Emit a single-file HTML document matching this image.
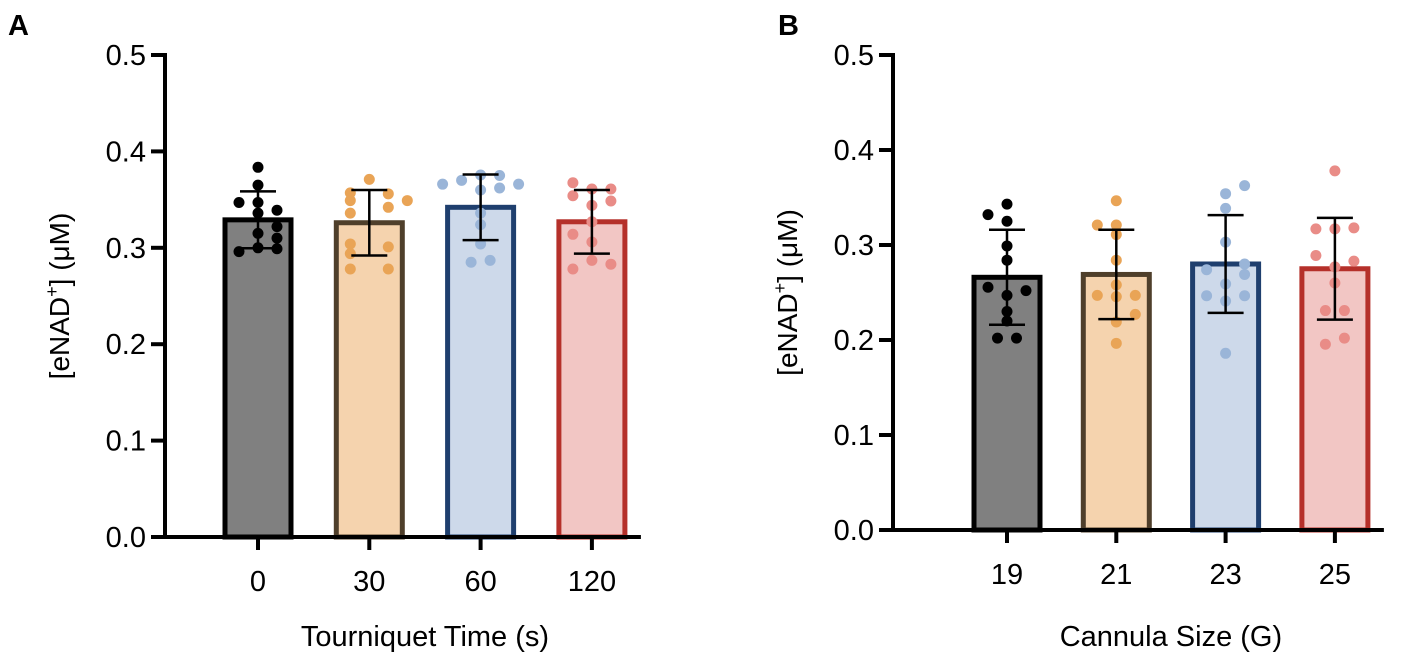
<!DOCTYPE html>
<html><head><meta charset="utf-8"><style>
body{margin:0;background:#fff}
svg{display:block;font-family:"Liberation Sans",Arial,sans-serif}
</style></head><body>
<svg id="s" width="1418" height="660" viewBox="0 0 1418 660" xmlns="http://www.w3.org/2000/svg"></svg>
<script>
const catsA = ["0","30","60","120"];
const meansA = [0.329,0.326,0.342,0.327];
const sdA = [0.0295,0.034,0.034,0.033];
const ptsA = [
 [0.3835,0.365,0.347,0.347,0.339,0.336,0.322,0.315,0.310,0.300,0.299,0.296],
 [0.371,0.357,0.356,0.349,0.349,0.342,0.336,0.304,0.301,0.294,0.278,0.278],
 [0.366,0.370,0.3755,0.375,0.366,0.360,0.362,0.336,0.324,0.304,0.285,0.287],
 [0.3675,0.354,0.361,0.361,0.3485,0.344,0.327,0.314,0.306,0.287,0.283,0.278]];
const offA = [
 [0,0,-1,0,1,0,1,0,1,0,1,-1],
 [0,-1,1,2,-1,1,-1,-1,1,-1,-1,1],
 [-2,-1,0,1,2,0,1,0,0,0,-0.5,0.5],
 [-1,-1,0,1,1,0,0,-1,0,0,1,-1]];
const catsB = ["19","21","23","25"];
const meansB = [0.266,0.269,0.280,0.275];
const sdB = [0.050,0.047,0.0515,0.0535];
const ptsB = [
 [0.332,0.343,0.325,0.299,0.284,0.2555,0.252,0.247,0.230,0.220,0.202,0.202],
 [0.3466,0.321,0.321,0.311,0.284,0.258,0.247,0.2456,0.247,0.227,0.219,0.1965],
 [0.3625,0.354,0.3386,0.303,0.274,0.280,0.269,0.259,0.2466,0.2466,0.241,0.186],
 [0.378,0.317,0.317,0.318,0.289,0.283,0.277,0.260,0.231,0.231,0.1955,0.202]];
const offB = [
 [-1,0,0,0,0,-1,1,0,0,0,-0.5,0.5],
 [0,-1,0,0,0,0,-1,0,1,1,0,0],
 [1,0,0,0,-1,1,1,0,-1,1,0,0],
 [0,-1,0,1,-1,1,0,0,-0.5,0.5,-0.5,0.5]];
const yTicks = [0,0.1,0.2,0.3,0.4,0.5];
const fills=["#808080","#f5d3ae","#cdd9ea","#f2c6c4"];
const strokes=["#000","#4f3f2b","#1f3f6e","#b5302a"];
const dots=["#000","#e9a456","#9ab5d8","#e98c87"];
const NS="http://www.w3.org/2000/svg", svg=document.getElementById('s');
function el(t,a,p){const e=document.createElementNS(NS,t);for(const k in a)e.setAttribute(k,a[k]);(p||svg).appendChild(e);return e;}
function panel(o){
 const g=el('g',{});
 
 
 const y=v=>o.y0-(v/0.5)*(o.y0-o.y5);
 const x=i=>o.x0+i*o.dx;
 const hw=33;
 o.cats.forEach((c,i)=>{
  const r=el('rect',{x:x(i)-hw,y:y(o.means[i]),width:hw*2,height:o.y0-y(o.means[i]),fill:fills[i],stroke:strokes[i],'stroke-width':5},g);
  
  
  o.pts[i].forEach((v,j)=>{
   const d=el('circle',{cx:x(i)+o.off[i][j]*19,cy:y(v),r:5.5,fill:dots[i]},g);
   
   
  });
  const hi=y(o.means[i]+o.sd[i]),lo=y(o.means[i]-o.sd[i]);
  const eb=el('path',{d:`M${x(i)},${hi}V${lo}M${x(i)-18},${hi}H${x(i)+18}M${x(i)-18},${lo}H${x(i)+18}`,stroke:'#000','stroke-width':2.5,fill:'none'},g);
  
  
  el('line',{x1:x(i),x2:x(i),y1:o.y0,y2:o.y0+13,stroke:'#000','stroke-width':4},g);
  const t=el('text',{x:x(i),y:o.y0+54,'font-size':29,'text-anchor':'middle'},g);t.textContent=c;
  
  
 });
 el('path',{d:`M${o.ax},${o.y5-2}V${o.y0}H${x(3)+hw+16}`,stroke:'#000','stroke-width':4,fill:'none'},g);
 yTicks.forEach(v=>{
  el('line',{x1:o.ax-14,x2:o.ax,y1:y(v),y2:y(v),stroke:'#000','stroke-width':4},g);
  const t=el('text',{x:o.ax-19,y:y(v)+10,'font-size':29,'text-anchor':'end'},g);t.textContent=v.toFixed(1);
  
  
 });
 const yt=el('text',{transform:`translate(${o.ax-96},${(o.y0+o.y5)/2}) rotate(-90)`,'font-size':28,'text-anchor':'middle'},g);
 yt.innerHTML='[eNAD<tspan dy="-11" font-size="18">+</tspan><tspan dy="11">] (μM)</tspan>';
 
 
 const xt=el('text',{x:(x(0)+x(3))/2,y:646,'font-size':29,'text-anchor':'middle'},g);xt.textContent=o.xtitle;
 
 
 const L=el('text',{x:o.lx,y:35,'font-size':29,'font-weight':'bold'},g);L.textContent=o.letter;
 
 
}
panel({name:'panel-a',cats:catsA,means:meansA,sd:sdA,pts:ptsA,off:offA,x0:258,dx:111.3,ax:165,y0:537,y5:55,xtitle:'Tourniquet Time (s)',letter:'A',lx:8});
panel({name:'panel-b',cats:catsB,means:meansB,sd:sdB,pts:ptsB,off:offB,x0:1007,dx:109.3,ax:893,y0:530,y5:55,xtitle:'Cannula Size (G)',letter:'B',lx:778});
</script>
</body></html>
